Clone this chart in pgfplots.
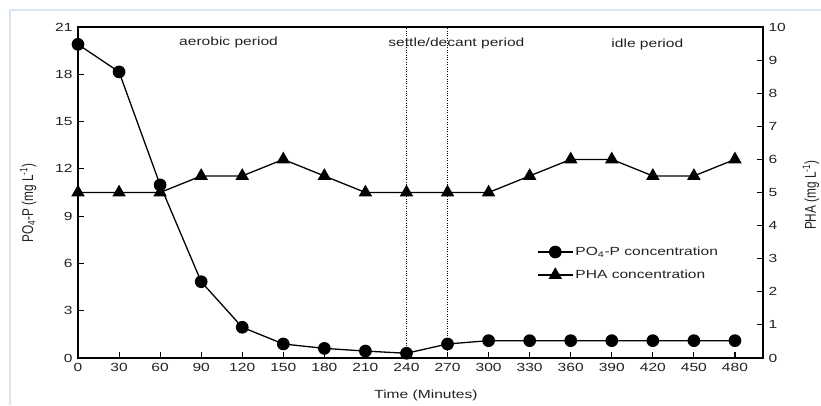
\documentclass[border=0pt]{standalone}
\usepackage{pgfplots}
\pgfplotsset{compat=1.18}
\usepackage{fontspec}
\setmainfont{Liberation Sans}[FakeStretch=1.32]
\newfontfamily\plainfont{Liberation Sans}
\usepackage{graphicx}
\definecolor{framecol}{HTML}{DCE5F2}
\definecolor{txt}{HTML}{222222}

\pgfplotsset{
  common/.style={
    width=685pt, height=331pt, scale only axis,
    at={(78pt,47pt)}, anchor=south west,
    xmin=0, xmax=500.5,
    tick align=inside,
    major tick length=6pt,
    tick style={black, line width=1.1pt},
    axis line style={black, line width=1.4pt},
    /pgf/number format/assume math mode=true,
    tick label style={font=\fontsize{11.8}{13}\selectfont, text=txt},
  },
}

\begin{document}
\begin{tikzpicture}
\path[use as bounding box, clip] (0,0) rectangle (821pt,405pt);
\draw[framecol, line width=1.5pt] (10pt,0) -- (10pt,395pt) -- (821pt,395pt);

\begin{axis}[
  common,
  ymin=0, ymax=21,
  xtick={0,30,...,480},
  ytick={0,3,...,21},
  xtick pos=bottom, ytick pos=left,
  xticklabel style={yshift=-2pt},
  yticklabel style={xshift=-2pt},
  xlabel={Time (Minutes)},
  xlabel style={at={(axis description cs:0.508,-0.114)}, anchor=center,
    font=\fontsize{11.8}{13}\selectfont, text=txt},
  ylabel={\scalebox{1}[1.32]{\plainfont\fontsize{11.8}{13}\selectfont PO\textsubscript{4}-P (mg L\textsuperscript{-1})}},
  ylabel style={at={(axis description cs:-0.073,0.468)}, anchor=center, text=txt},
]
\addplot[black, line width=1.3pt, mark=*, mark size=5.7pt] coordinates {
(0,19.9) (30,18.15) (60,10.98) (90,4.84) (120,1.95) (150,0.89) (180,0.61)
(210,0.44) (240,0.30) (270,0.89) (300,1.10) (330,1.10) (360,1.10) (390,1.10)
(420,1.10) (450,1.10) (480,1.10)
};
\draw[black, line width=1.3pt, dash pattern=on 1.1pt off 1.3pt] (axis cs:240,0) -- (axis cs:240,21);
\draw[black, line width=1.3pt, dash pattern=on 1.1pt off 1.3pt] (axis cs:270,0) -- (axis cs:270,21);
\node[text=txt, font=\fontsize{11.8}{13}\selectfont] at (axis cs:110,20.05) {aerobic period};
\node[text=txt, font=\fontsize{11.8}{13}\selectfont] at (axis cs:276.5,19.98) {settle/decant period};
\node[text=txt, font=\fontsize{11.8}{13}\selectfont] at (axis cs:416,19.9) {idle period};
\end{axis}

\begin{axis}[
  common,
  ymin=0, ymax=10,
  axis x line=none,
  axis y line*=right,
  ytick={0,1,...,10},
  yticklabel style={xshift=2pt},
  ylabel={\scalebox{1}[1.32]{\plainfont\fontsize{11.8}{13}\selectfont PHA (mg L\textsuperscript{-1})}},
  ylabel style={at={(axis description cs:1.070,0.492)}, anchor=center, text=txt},
  legend style={at={(0.670,0.342)}, anchor=north west, draw=none, fill=none,
    font=\fontsize{11.8}{13}\selectfont, text=txt, inner sep=0pt, row sep=9pt},
  legend cell align=left,
  legend image code/.code={
    \draw[mark repeat=2, mark phase=2, #1] plot coordinates {(0pt,0pt) (17.5pt,0pt) (35pt,0pt)};
  },
]
\addlegendimage{black, line width=1.3pt, mark=*, mark size=5.7pt}
\addlegendentry{PO\textsubscript{4}-P concentration}
\addplot[black, line width=1.3pt, mark=triangle*, mark size=6.5pt] coordinates {
(0,5) (30,5) (60,5) (90,5.5) (120,5.5) (150,6) (180,5.5) (210,5) (240,5)
(270,5) (300,5) (330,5.5) (360,6) (390,6) (420,5.5) (450,5.5) (480,6)
};
\addlegendentry{PHA concentration}
\end{axis}
\end{tikzpicture}
\end{document}
